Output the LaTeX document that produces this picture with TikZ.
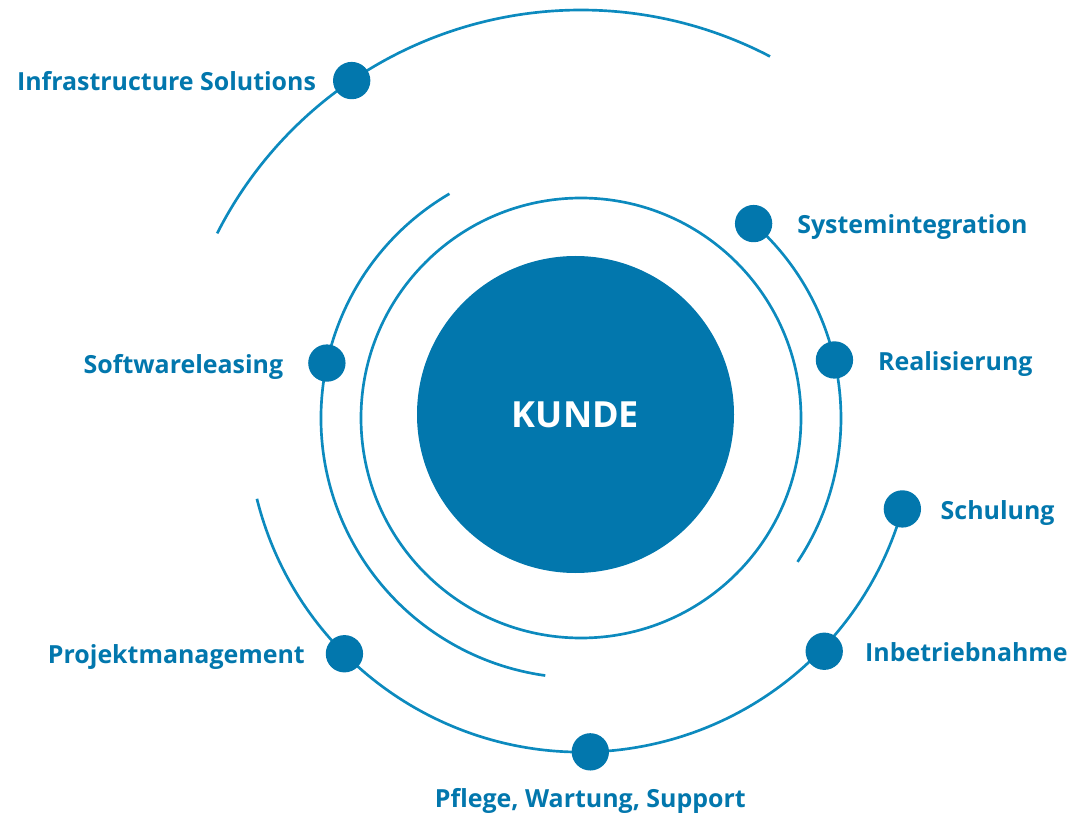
\documentclass[tikz,border=0pt]{standalone}
\usepackage{fontspec}
\setmainfont{Open Sans}
\usetikzlibrary{positioning}

\definecolor{kblue}{RGB}{2,119,173}
\definecolor{kline}{RGB}{12,138,190}

\tikzset{every picture/.style={line width=0.75pt}}
\tikzset{
  orbit/.style={draw=kline, line width=2pt},
  dot/.style={circle, fill=kblue, inner sep=0pt, minimum size=28pt},
  lbl/.style={text=kblue, font=\fontsize{18.7}{22}\selectfont\bfseries, inner sep=0pt,
              text height=0.72em, text depth=0pt, yshift=-4pt}
}

\begin{document}
\begin{tikzpicture}[x=0.75pt,y=0.75pt,yscale=-1,xscale=1]
\useasboundingbox (0,0) rectangle (1071,816);

%center of the orbits
\coordinate (c) at (581,418);

%Kunde disk and inner ring
\draw [orbit] (c) circle [radius=220];
\node [circle, fill=kblue, minimum size=237.75pt, inner sep=0pt, text=white,
       font=\fontsize{27}{30}\selectfont\bfseries] (kunde) at (575.5,414.5) {KUNDE};

%Orbits
\draw [orbit] (c) ++(-153.1:408) arc [start angle=-153.1, end angle=-62.4, radius=408];
\draw [orbit] (c) ++(-120.4:260) arc [start angle=-120.4, end angle=-262.1, radius=260];
\draw [orbit] (c) ++(-48.4:260) arc [start angle=-48.4, end angle=33.6, radius=260];
\draw [orbit] (c) ++(-194:334) arc [start angle=-194, end angle=-344.2, radius=334];

%Dots
\node [dot] (infra)  at ([shift={(-124.2:408)}]c) {};
\node [dot] (soft)   at ([shift={(-167.8:260)}]c) {};
\node [dot] (sysint) at ([shift={(-48.4:260)}]c) {};
\node [dot] (real)   at ([shift={(-12.9:260)}]c) {};
\node [dot] (schul)  at ([shift={(15.8:334)}]c) {};
\node [dot] (inbet)  at ([shift={(43.8:337)}]c) {};
\node [dot] (pflege) at ([shift={(88.4:334)}]c) {};
\node [dot] (projekt) at ([shift={(135.1:334)}]c) {};

%Labels
\node [lbl, left=12pt of infra]   (linfra)  {Infrastructure Solutions};
\node [lbl, left=18pt of soft]    (lsoft)   {Softwareleasing};
\node [lbl, right=18pt of sysint] (lsysint) {Systemintegration};
\node [lbl, right=18pt of real]   (lreal)   {Realisierung};
\node [lbl, right=14pt of schul]  (lschul)  {Schulung};
\node [lbl, right=16pt of inbet]  (linbet)  {Inbetriebnahme};
\node [lbl, left=15pt of projekt] (lprojekt) {Projektmanagement};
\node [lbl, below=16pt of pflege] (lpflege) {Pflege, Wartung, Support};

\end{tikzpicture}
\end{document}
